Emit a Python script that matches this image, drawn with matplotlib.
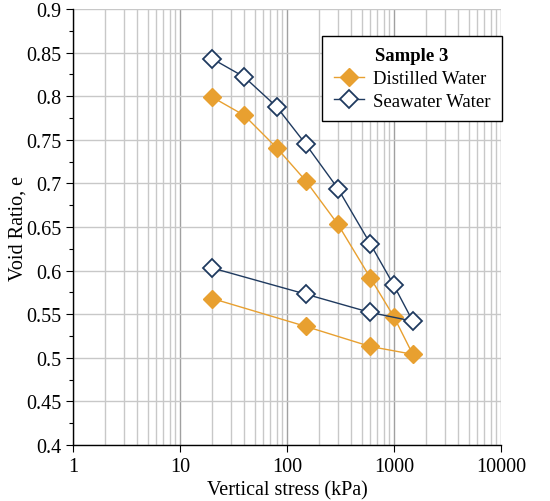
import numpy as np
import matplotlib
matplotlib.use('Agg')
import matplotlib.pyplot as plt
from matplotlib.ticker import FixedLocator, NullFormatter, FormatStrFormatter

plt.rcParams['font.family'] = ['Liberation Serif', 'DejaVu Serif']

# vertical stress (kPa), loading then unloading
stress = [20, 40, 80, 150, 300, 600, 1000, 1500, 600, 150, 20]
distilled = [0.799, 0.778, 0.741, 0.703, 0.653, 0.592, 0.547, 0.504, 0.513, 0.536, 0.568]
seawater = [0.843, 0.822, 0.788, 0.745, 0.694, 0.631, 0.583, 0.542, 0.552, 0.573, 0.603]

xticks = [1, 10, 100, 1000, 10000]
xlabels = ['1', '10', '100', '1000', '10000']

fig = plt.figure(figsize=(5.5, 5.02), dpi=100)
ax = fig.add_axes([0.1327, 0.1116, 0.778, 0.8684])

ax.plot(stress, distilled, color='#e8a030', lw=1.0, marker='D', ms=9.5,
        mfc='#e8a030', mec='#e8a030', label='Distilled Water', zorder=3)
ax.plot(stress, seawater, color='#1f3a5f', lw=1.0, marker='D', ms=9,
        mfc='white', mec='#1f3a5f', mew=1.3, label='Seawater Water', zorder=3)

ax.set_xscale('log')
ax.set_xlim(1, 10000)
ax.set_ylim(0.4, 0.9)
ax.xaxis.set_major_locator(FixedLocator(xticks))
ax.set_xticklabels(xlabels)
minors = [m * d for d in [1, 10, 100, 1000] for m in range(2, 10)]
ax.xaxis.set_minor_locator(FixedLocator(minors))
ax.xaxis.set_minor_formatter(NullFormatter())
ax.yaxis.set_major_locator(FixedLocator(np.arange(0.4, 0.901, 0.05).round(3)))
ax.yaxis.set_major_formatter(FormatStrFormatter('%g'))
ax.yaxis.set_minor_locator(FixedLocator(np.arange(0.425, 0.9, 0.05).round(3)))

ax.grid(which='major', axis='x', color='#a0a0a0', lw=1.0)
ax.grid(which='minor', axis='x', color='#c8c8c8', lw=1.0)
ax.grid(which='major', axis='y', color='#c8c8c8', lw=1.0)
ax.set_axisbelow(True)

ax.tick_params(which='major', direction='out', length=5, labelsize=14.5, width=0.8)
ax.tick_params(which='minor', axis='y', direction='out', length=3, width=0.8)
ax.tick_params(which='minor', axis='x', length=0)
for s in ['top', 'right']:
  ax.spines[s].set_visible(False)
ax.spines['left'].set_linewidth(1.0)
ax.spines['bottom'].set_linewidth(1.0)

ax.set_xlabel('Vertical stress (kPa)', fontsize=14.5, labelpad=3)
ax.set_ylabel('Void Ratio, e', fontsize=14.5, labelpad=-1)

leg = ax.legend(loc='upper right', bbox_to_anchor=(1.002, 0.938), borderaxespad=0,
                title='Sample 3',
                fontsize=13.5, title_fontproperties={'weight': 'bold', 'size': 13.5},
                fancybox=False, framealpha=1.0, edgecolor='black',
                handlelength=1.6, handletextpad=0.5, borderpad=0.6, labelspacing=0.3)
leg.get_frame().set_linewidth(1.0)

fig.savefig('out.png', dpi=100)
